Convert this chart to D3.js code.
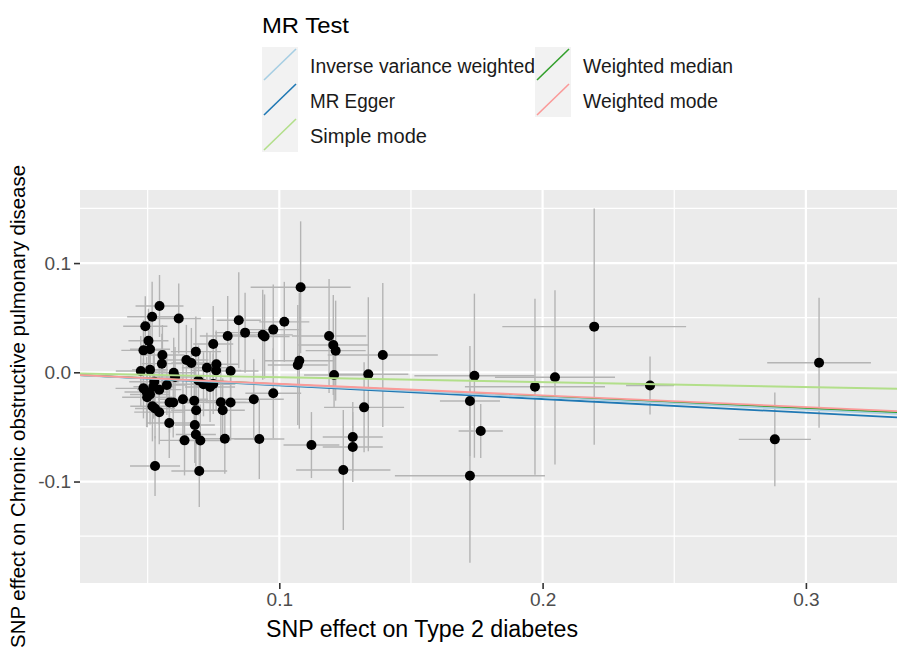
<!DOCTYPE html>
<html>
<head>
<meta charset="utf-8">
<script src="https://cdn.jsdelivr.net/npm/d3@7"></script>
<style>
  html, body { margin: 0; padding: 0; background: #ffffff; }
  svg { display: block; }
  text { font-family: "Liberation Sans", Arial, sans-serif; }
</style>
</head>
<body>
<svg id="chart" width="897" height="651"></svg>
<script>
// ---------------- data ----------------
// SNP effects on exposure (Type 2 diabetes)
const snpBetaExposure = [
  0.0545, 0.0517, 0.0491, 0.0618, 0.0503, 0.0484, 0.0509, 0.0556, 0.0554, 0.0474,
  0.0509, 0.0599, 0.0604, 0.0647, 0.0666, 0.0683, 0.0749, 0.0804, 0.0846, 0.0870,
  0.0937, 0.0944, 0.0977, 0.1019, 0.1081, 0.1076, 0.1070, 0.0725, 0.0761, 0.0760,
  0.0815, 0.0693, 0.0712, 0.0737, 0.0749, 0.0525, 0.0484, 0.0496, 0.0509, 0.0498,
  0.0522, 0.0544, 0.0573, 0.0518, 0.0528, 0.0544, 0.0583, 0.0597, 0.0634, 0.0677,
  0.0684, 0.0582, 0.0679, 0.0683, 0.0700, 0.0640, 0.0793, 0.0778, 0.0785, 0.0815,
  0.0903, 0.0977, 0.0924, 0.0528, 0.0696, 0.1189, 0.1205, 0.1214, 0.1208, 0.1393,
  0.1338, 0.1322, 0.1279, 0.1279, 0.1243, 0.1122, 0.1741, 0.1724, 0.1765, 0.1724,
  0.1971, 0.2047, 0.2196, 0.2408, 0.2882, 0.3050
];
// SNP effects on outcome (COPD)
const snpBetaOutcome = [
  0.0607, 0.0509, 0.0421, 0.0493, 0.0289, 0.0201, 0.0211, 0.0158, 0.0079, 0.0012,
  0.0024, -0.0004, -0.0043, 0.0113, 0.0085, 0.0189, 0.0259, 0.0332, 0.0476, 0.0363,
  0.0343, 0.0328, 0.0391, 0.0462, 0.0778, 0.0106, 0.0067, 0.0042, 0.0074, 0.0016,
  0.0012, -0.0075, -0.0110, -0.0135, -0.0107, -0.0086, -0.0147, -0.0180, -0.0203, -0.0229,
  -0.0132, -0.0159, -0.0116, -0.0311, -0.0331, -0.0365, -0.0277, -0.0277, -0.0247, -0.0260,
  -0.0348, -0.0464, -0.0483, -0.0570, -0.0625, -0.0623, -0.0608, -0.0275, -0.0348, -0.0277,
  -0.0247, -0.0192, -0.0611, -0.0858, -0.0904, 0.0332, 0.0250, 0.0198, -0.0025, 0.0158,
  -0.0018, -0.0321, -0.0592, -0.0684, -0.0895, -0.0666, -0.0031, -0.0263, -0.0538, -0.0947,
  -0.0132, -0.0046, 0.0418, -0.0121, -0.0614, 0.0088
];
// standard errors (exposure)
const snpSeExposure = [
  0.0091, 0.0095, 0.0084, 0.0084, 0.0076, 0.0084, 0.0076, 0.0084, 0.0076, 0.0095,
  0.0068, 0.0084, 0.0076, 0.0084, 0.0076, 0.0095, 0.0076, 0.0106, 0.0084, 0.0114,
  0.0114, 0.0095, 0.0106, 0.0095, 0.0190, 0.0133, 0.0114, 0.0095, 0.0084, 0.0095,
  0.0106, 0.0095, 0.0106, 0.0095, 0.0084, 0.0095, 0.0106, 0.0084, 0.0076, 0.0095,
  0.0076, 0.0084, 0.0076, 0.0084, 0.0076, 0.0095, 0.0084, 0.0076, 0.0095, 0.0084,
  0.0095, 0.0084, 0.0076, 0.0076, 0.0084, 0.0095, 0.0114, 0.0095, 0.0084, 0.0095,
  0.0114, 0.0106, 0.0095, 0.0095, 0.0106, 0.0141, 0.0133, 0.0114, 0.0114, 0.0209,
  0.0152, 0.0152, 0.0114, 0.0114, 0.0179, 0.0106, 0.0228, 0.0114, 0.0084, 0.0285,
  0.0266, 0.0228, 0.0349, 0.0091, 0.0137, 0.0197
];
// standard errors (outcome)
const snpSeOutcome = [
  0.0284, 0.0321, 0.0275, 0.0321, 0.0293, 0.0275, 0.0256, 0.0275, 0.0275, 0.0321,
  0.0275, 0.0321, 0.0275, 0.0321, 0.0321, 0.0321, 0.0348, 0.0366, 0.0440, 0.0366,
  0.0412, 0.0385, 0.0412, 0.0366, 0.0604, 0.0623, 0.0549, 0.0321, 0.0293, 0.0366,
  0.0321, 0.0321, 0.0293, 0.0321, 0.0275, 0.0321, 0.0275, 0.0321, 0.0275, 0.0275,
  0.0293, 0.0321, 0.0275, 0.0321, 0.0275, 0.0293, 0.0275, 0.0321, 0.0321, 0.0348,
  0.0321, 0.0321, 0.0348, 0.0293, 0.0330, 0.0321, 0.0321, 0.0366, 0.0293, 0.0348,
  0.0366, 0.0412, 0.0366, 0.0275, 0.0330, 0.0522, 0.0458, 0.0458, 0.0302, 0.0659,
  0.0705, 0.0412, 0.0321, 0.0321, 0.0549, 0.0302, 0.0751, 0.0504, 0.0247, 0.0797,
  0.0806, 0.0797, 0.1081, 0.0266, 0.0430, 0.0595
];

// MR method lines
const methodNames = ["Inverse variance weighted", "MR Egger", "Simple mode", "Weighted median", "Weighted mode"];
const methodColors = ["#a6cee3", "#1f78b4", "#b2df8a", "#33a02c", "#fb9a99"];
const methodIntercepts = [0, 0.0005, 0, 0, 0];
const methodSlopes = [-0.114, -0.125, -0.045, -0.110, -0.106];
const lineDrawOrder = [1, 3, 0, 2, 4];

// axes
const xTickValues = [0.1, 0.2, 0.3];
const xTickLabels = ["0.1", "0.2", "0.3"];
const xMinorValues = [0.05, 0.15, 0.25];
const yTickValues = [-0.1, 0.0, 0.1];
const yTickLabels = ["-0.1", "0.0", "0.1"];
const yMinorValues = [-0.15, -0.05, 0.05, 0.15];
const xDomain = [0.0243, 0.3346];
const yDomain = [-0.1929, 0.1669];

const xTitle = "SNP effect on Type 2 diabetes";
const yTitle = "SNP effect on Chronic obstructive pulmonary disease";
const legendTitle = "MR Test";

// ---------------- drawing ----------------
const svg = d3.select("#chart");
const panel = { left: 80, right: 897, top: 190, bottom: 583 };

const x = d3.scaleLinear().domain(xDomain).range([panel.left, panel.right]);
const y = d3.scaleLinear().domain(yDomain).range([panel.bottom, panel.top]);

svg.append("rect").attr("x", 0).attr("y", 0).attr("width", 897).attr("height", 651).attr("fill", "#ffffff");

svg.append("defs").append("clipPath").attr("id", "clip")
  .append("rect")
  .attr("x", panel.left).attr("y", panel.top)
  .attr("width", panel.right - panel.left).attr("height", panel.bottom - panel.top);

// panel background
svg.append("rect")
  .attr("x", panel.left).attr("y", panel.top)
  .attr("width", panel.right - panel.left).attr("height", panel.bottom - panel.top)
  .attr("fill", "#ebebeb");

const grid = svg.append("g").attr("clip-path", "url(#clip)");
// minor grid
grid.selectAll(".xminor").data(xMinorValues).join("line")
  .attr("class", "xminor")
  .attr("x1", d => x(d)).attr("x2", d => x(d))
  .attr("y1", panel.top).attr("y2", panel.bottom)
  .attr("stroke", "#ffffff").attr("stroke-width", 1.2);
grid.selectAll(".yminor").data(yMinorValues).join("line")
  .attr("class", "yminor")
  .attr("x1", panel.left).attr("x2", panel.right)
  .attr("y1", d => y(d)).attr("y2", d => y(d))
  .attr("stroke", "#ffffff").attr("stroke-width", 1.2);
// major grid
grid.selectAll(".xmajor").data(xTickValues).join("line")
  .attr("class", "xmajor")
  .attr("x1", d => x(d)).attr("x2", d => x(d))
  .attr("y1", panel.top).attr("y2", panel.bottom)
  .attr("stroke", "#ffffff").attr("stroke-width", 2.2);
grid.selectAll(".ymajor").data(yTickValues).join("line")
  .attr("class", "ymajor")
  .attr("x1", panel.left).attr("x2", panel.right)
  .attr("y1", d => y(d)).attr("y2", d => y(d))
  .attr("stroke", "#ffffff").attr("stroke-width", 2.2);

const points = snpBetaExposure.map((bx, i) => ({
  bx: bx, by: snpBetaOutcome[i], sx: snpSeExposure[i], sy: snpSeOutcome[i]
}));

const marks = svg.append("g").attr("clip-path", "url(#clip)");
// vertical error bars
marks.selectAll(".ev").data(points).join("line")
  .attr("class", "ev")
  .attr("x1", d => x(d.bx)).attr("x2", d => x(d.bx))
  .attr("y1", d => y(d.by - d.sy)).attr("y2", d => y(d.by + d.sy))
  .attr("stroke", "#b4b4b4").attr("stroke-width", 1.4);
// horizontal error bars
marks.selectAll(".eh").data(points).join("line")
  .attr("class", "eh")
  .attr("x1", d => x(d.bx - d.sx)).attr("x2", d => x(d.bx + d.sx))
  .attr("y1", d => y(d.by)).attr("y2", d => y(d.by))
  .attr("stroke", "#b4b4b4").attr("stroke-width", 1.4);
// points
marks.selectAll(".pt").data(points).join("circle")
  .attr("class", "pt")
  .attr("cx", d => x(d.bx)).attr("cy", d => y(d.by))
  .attr("r", 5).attr("fill", "#000000");

// ablines
marks.selectAll(".abl").data(lineDrawOrder).join("line")
  .attr("class", "abl")
  .attr("x1", x(xDomain[0])).attr("x2", x(xDomain[1]))
  .attr("y1", i => y(methodIntercepts[i] + methodSlopes[i] * xDomain[0]))
  .attr("y2", i => y(methodIntercepts[i] + methodSlopes[i] * xDomain[1]))
  .attr("stroke", i => methodColors[i]).attr("stroke-width", 1.8);

// axes
const xAxis = d3.axisBottom(x).tickValues(xTickValues)
  .tickFormat((d, i) => xTickLabels[i]).tickSize(6).tickPadding(4);
const gx = svg.append("g").attr("transform", `translate(0,${panel.bottom})`).call(xAxis);
gx.select(".domain").remove();
gx.selectAll(".tick line").attr("stroke", "#333333").attr("stroke-width", 1.6);
gx.selectAll(".tick text").attr("fill", "#4d4d4d").attr("font-size", 19)
  .attr("font-family", "'Liberation Sans', Arial, sans-serif");

const yAxis = d3.axisLeft(y).tickValues(yTickValues)
  .tickFormat((d, i) => yTickLabels[i]).tickSize(6).tickPadding(3);
const gy = svg.append("g").attr("transform", `translate(${panel.left},0)`).call(yAxis);
gy.select(".domain").remove();
gy.selectAll(".tick line").attr("stroke", "#333333").attr("stroke-width", 1.6);
gy.selectAll(".tick text").attr("fill", "#4d4d4d").attr("font-size", 19)
  .attr("font-family", "'Liberation Sans', Arial, sans-serif");

// axis titles
svg.append("text")
  .attr("x", 266).attr("y", 637)
  .attr("font-size", 23).attr("fill", "#000000")
  .attr("textLength", 312).attr("lengthAdjust", "spacingAndGlyphs")
  .text(xTitle);

svg.append("text")
  .attr("transform", "translate(25,648) rotate(-90)")
  .attr("x", 0).attr("y", 0)
  .attr("font-size", 21).attr("fill", "#000000")
  .attr("textLength", 483).attr("lengthAdjust", "spacingAndGlyphs")
  .text(yTitle);

// legend
svg.append("text")
  .attr("x", 262).attr("y", 33)
  .attr("font-size", 22).attr("fill", "#000000")
  .attr("textLength", 87).attr("lengthAdjust", "spacingAndGlyphs")
  .text(legendTitle);

const legendCols = [262, 535];
const legendRowTop = [47, 82, 117];
const labelWidths = [225, 85, 117, 150, 135];
const legendItems = methodNames.map((name, i) => ({
  name: name, color: methodColors[i],
  col: i < 3 ? 0 : 1, row: i < 3 ? i : i - 3, w: labelWidths[i]
}));
const lg = svg.append("g");
const keySize = 36;
const items = lg.selectAll(".li").data(legendItems).join("g")
  .attr("transform", d => `translate(${legendCols[d.col]},${legendRowTop[d.row]})`);
items.append("rect").attr("width", keySize).attr("height", keySize - 1).attr("fill", "#f2f2f2");
items.append("line")
  .attr("x1", 2).attr("y1", keySize - 3).attr("x2", keySize - 2).attr("y2", 2)
  .attr("stroke", d => d.color).attr("stroke-width", 1.6);
items.append("text")
  .attr("x", 48).attr("y", 26)
  .attr("font-size", 20).attr("fill", "#1a1a1a")
  .attr("textLength", d => d.w).attr("lengthAdjust", "spacingAndGlyphs")
  .text(d => d.name);
</script>
</body>
</html>
